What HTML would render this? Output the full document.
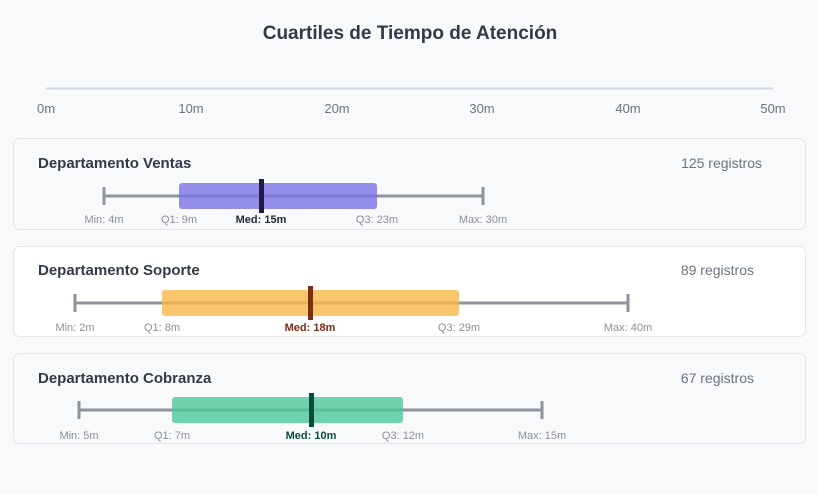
<!DOCTYPE html>
<html><head><meta charset="utf-8"><style>
body{margin:0;background:#f8f9fb;}
svg{display:block;font-family:"Liberation Sans","DejaVu Sans",sans-serif;}
</style></head><body>
<svg width="817" height="495" viewBox="0 0 817 495" xmlns="http://www.w3.org/2000/svg">
<rect width="817" height="495" fill="#f8f9fb"/>
<text x="410" y="39" text-anchor="middle" font-size="19" font-weight="bold" fill="#333a47">Cuartiles de Tiempo de Atención</text>
<line x1="46" y1="88.5" x2="773" y2="88.5" stroke="#cfd6e1" stroke-width="2"/>
<g font-size="13" fill="#6b7280" text-anchor="middle">
<text x="46" y="113">0m</text><text x="191" y="113">10m</text><text x="337" y="113">20m</text>
<text x="482" y="113">30m</text><text x="628" y="113">40m</text><text x="773" y="113">50m</text>
</g>

<!-- Ventas -->
<rect x="13.5" y="138.5" width="792" height="91" rx="6" fill="#f8f9fb" stroke="#e2e5ea"/>
<text x="38" y="168" font-size="15" font-weight="bold" fill="#333a47">Departamento Ventas</text>
<text x="762" y="168" font-size="14" fill="#6b7280" text-anchor="end">125 registros</text>
<line x1="104" y1="196" x2="483" y2="196" stroke="#8e939d" stroke-width="3"/>
<line x1="104" y1="187" x2="104" y2="205" stroke="#8e939d" stroke-width="3"/>
<line x1="483" y1="187" x2="483" y2="205" stroke="#8e939d" stroke-width="3"/>
<rect x="179" y="183" width="198" height="26" rx="3" fill="#7b73e6" fill-opacity="0.8"/>
<rect x="259" y="179" width="5" height="34" fill="#1e1b4b"/>
<g font-size="11" fill="#8a8f98" text-anchor="middle">
<text x="104" y="223">Min: 4m</text><text x="179" y="223">Q1: 9m</text>
<text x="261" y="223" font-weight="bold" fill="#1f2937">Med: 15m</text>
<text x="377" y="223">Q3: 23m</text><text x="483" y="223">Max: 30m</text></g>

<!-- Soporte -->
<rect x="13.5" y="246.5" width="792" height="90" rx="6" fill="#ffffff" stroke="#e2e5ea"/>
<text x="38" y="275" font-size="15" font-weight="bold" fill="#333a47">Departamento Soporte</text>
<text x="754" y="275" font-size="14" fill="#6b7280" text-anchor="end">89 registros</text>
<line x1="75" y1="303" x2="628" y2="303" stroke="#8e939d" stroke-width="3"/>
<line x1="75" y1="294" x2="75" y2="312" stroke="#8e939d" stroke-width="3"/>
<line x1="628" y1="294" x2="628" y2="312" stroke="#8e939d" stroke-width="3"/>
<rect x="162" y="290" width="297" height="26" rx="3" fill="#f7b84a" fill-opacity="0.8"/>
<rect x="308" y="286" width="5" height="34" fill="#7c2d12"/>
<g font-size="11" fill="#8a8f98" text-anchor="middle">
<text x="75" y="331">Min: 2m</text><text x="162" y="331">Q1: 8m</text>
<text x="310" y="331" font-weight="bold" fill="#7c2d12">Med: 18m</text>
<text x="459" y="331">Q3: 29m</text><text x="628" y="331">Max: 40m</text></g>

<!-- Cobranza -->
<rect x="13.5" y="353.5" width="792" height="90" rx="6" fill="#f8f9fb" stroke="#e2e5ea"/>
<text x="38" y="383" font-size="15" font-weight="bold" fill="#333a47">Departamento Cobranza</text>
<text x="754" y="383" font-size="14" fill="#6b7280" text-anchor="end">67 registros</text>
<line x1="79" y1="410" x2="542" y2="410" stroke="#8e939d" stroke-width="3"/>
<line x1="79" y1="401" x2="79" y2="419" stroke="#8e939d" stroke-width="3"/>
<line x1="542" y1="401" x2="542" y2="419" stroke="#8e939d" stroke-width="3"/>
<rect x="172" y="397" width="231" height="26" rx="3" fill="#4cc898" fill-opacity="0.8"/>
<rect x="309" y="393" width="5" height="34" fill="#064e3b"/>
<g font-size="11" fill="#8a8f98" text-anchor="middle">
<text x="79" y="439">Min: 5m</text><text x="172" y="439">Q1: 7m</text>
<text x="311" y="439" font-weight="bold" fill="#064e3b">Med: 10m</text>
<text x="403" y="439">Q3: 12m</text><text x="542" y="439">Max: 15m</text></g>
</svg>
</body></html>
